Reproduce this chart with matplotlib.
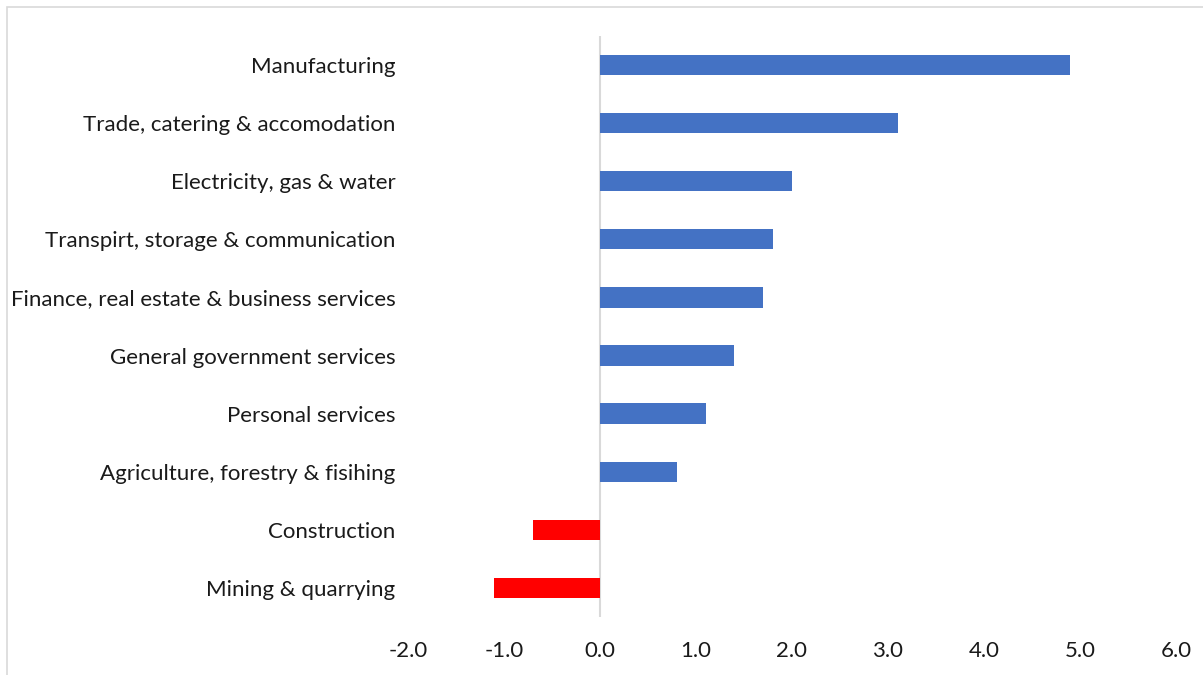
import matplotlib.pyplot as plt
from matplotlib.patches import Rectangle

# Sector growth contributions
sectors = [
    "Manufacturing",
    "Trade, catering & accomodation",
    "Electricity, gas & water",
    "Transpirt, storage & communication",
    "Finance, real estate & business services",
    "General government services",
    "Personal services",
    "Agriculture, forestry & fisihing",
    "Construction",
    "Mining & quarrying",
]
values = [4.9, 3.1, 2.0, 1.8, 1.7, 1.4, 1.1, 0.8, -0.7, -1.1]
xticks = [-2.0, -1.0, 0.0, 1.0, 2.0, 3.0, 4.0, 5.0, 6.0]

plt.rcParams["font.family"] = ["Lato", "DejaVu Sans"]

fig = plt.figure(figsize=(12.03, 6.75), dpi=100)
ax = fig.add_axes([0.339, 0.086, 0.6386, 0.8607])

colors = ["#4472c4" if v >= 0 else "#ff0000" for v in values]
ypos = list(range(len(sectors)))
ax.barh(ypos, values, height=0.35, color=colors, zorder=2)
ax.set_ylim(len(sectors) - 0.5, -0.5)
ax.set_xlim(-2, 6)

ax.axvline(0, color="#d9d9d9", lw=1.5, zorder=1)

for s in ax.spines.values():
    s.set_visible(False)

ax.set_yticks(ypos)
ax.set_yticklabels(sectors, fontsize=16, color="#1a1a1a")
ax.set_xticks(xticks)
ax.set_xticklabels([f"{t:.1f}" for t in xticks], fontsize=16, color="#1a1a1a")
ax.tick_params(axis="y", length=0, pad=9)
ax.tick_params(axis="x", length=0, pad=17)

# chart frame
fig.patches.append(Rectangle((7 / 1203, -0.1), 1.2, 1 - 7 / 675 + 0.1,
                             transform=fig.transFigure, fill=False,
                             edgecolor="#d9d9d9", lw=1.2))

fig.savefig("out.png", dpi=100)
